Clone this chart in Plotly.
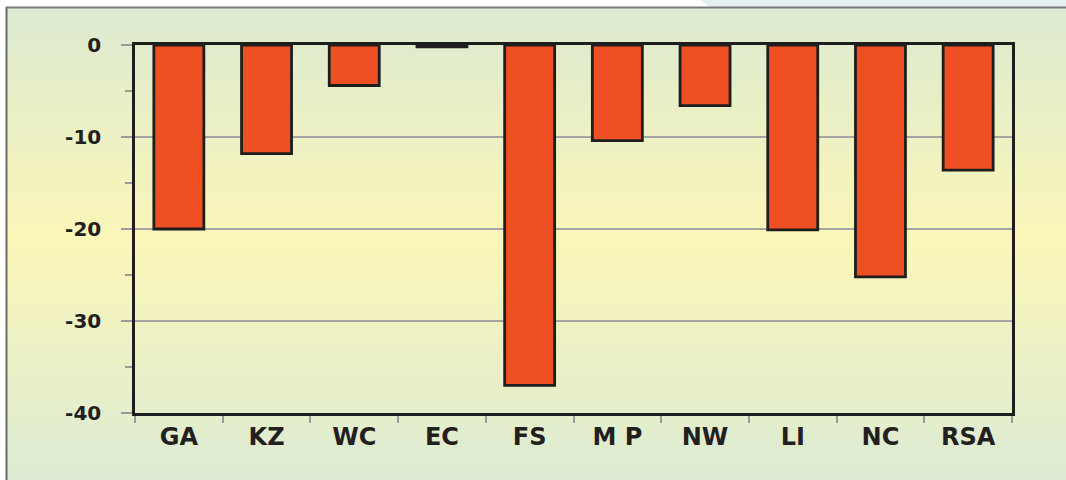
import plotly.graph_objects as go

categories = ["GA", "KZ", "WC", "EC", "FS", "M P", "NW", "LI", "NC", "RSA"]
values = [-20.0, -11.8, -4.4, -0.2, -37.0, -10.4, -6.6, -20.1, -25.2, -13.6]
y_tickvals = [0, -10, -20, -30, -40]

W, H = 1066, 480
PL, PR, PT, PB = 135, 1012, 45, 413

fig = go.Figure()
fig.add_trace(go.Bar(
    x=categories, y=values,
    marker=dict(color="#EF5023", line=dict(color="#1e1e1e", width=2.8)),
    hoverinfo="x+y",
))

def lerp(c1, c2, t):
    t = max(0.0, min(1.0, t))
    return "#%02x%02x%02x" % tuple(int(round(a + (b - a) * t)) for a, b in zip(c1, c2))

def py(px):
    return (PB - px) / (PB - PT)

def pxx(px):
    return (px - PL) / (PR - PL)

top = (220, 234, 209)
mid = (251, 246, 184)
bot = (220, 235, 212)
y_top_px, y_bot_px, peak_px = 8, 481, 240
n = 80
shapes = []
for i in range(n):
    a = y_top_px + (y_bot_px - y_top_px) * i / n
    b = y_top_px + (y_bot_px - y_top_px) * (i + 1) / n
    c = (a + b) / 2
    if c < peak_px:
        col = lerp(top, mid, (c - y_top_px) / (peak_px - y_top_px))
    else:
        col = lerp(mid, bot, (c - peak_px) / (y_bot_px - peak_px))
    shapes.append(dict(type="rect", xref="paper", yref="paper", layer="below",
                       x0=pxx(6), x1=pxx(1070), y0=py(b + 0.6), y1=py(a),
                       line=dict(width=0), fillcolor=col))
# top-right light blue tab
shapes.append(dict(type="path", xref="paper", yref="paper", layer="below",
                   path=f"M {pxx(709)},{py(7)} L {pxx(700)},{py(-1)} L {pxx(1070)},{py(-1)} L {pxx(1070)},{py(7)} Z",
                   fillcolor="#e3eff0", line=dict(width=0)))
# frame border lines
shapes.append(dict(type="line", xref="paper", yref="paper", layer="below",
                   x0=pxx(6), x1=pxx(1070), y0=py(7.5), y1=py(7.5),
                   line=dict(color="#7a7a7a", width=2)))
shapes.append(dict(type="line", xref="paper", yref="paper", layer="below",
                   x0=pxx(6.5), x1=pxx(6.5), y0=py(7), y1=py(485),
                   line=dict(color="#6a6a6a", width=2)))

fig.update_layout(
    width=W, height=H,
    margin=dict(l=PL, r=W - PR, t=PT, b=H - PB),
    paper_bgcolor="white",
    plot_bgcolor="rgba(0,0,0,0)",
    bargap=0.43,
    showlegend=False,
    shapes=shapes,
    font=dict(family="DejaVu Sans, Arial, sans-serif", color="#231f20"),
    xaxis=dict(
        type="category",
        showline=True, linecolor="#1e1e1e", linewidth=2.5, mirror=True,
        ticks="outside", tickson="boundaries", ticklen=7, tickwidth=2, tickcolor="#9a9a9a",
        tickfont=dict(size=24, weight="bold", color="#231f20"),
        showgrid=False,
    ),
    yaxis=dict(
        range=[-40, 0], tickvals=y_tickvals, ticktext=[str(v) for v in y_tickvals],
        showline=True, linecolor="#1e1e1e", linewidth=2.5, mirror=True,
        ticks="outside", ticklen=11, tickwidth=2, tickcolor="#9a9a9a",
        showgrid=True, gridcolor="#a5a5a5", gridwidth=2,
        zeroline=False,
        tickfont=dict(size=20, weight="bold", color="#231f20"),
        minor=dict(dtick=5, tick0=0, ticks="outside", ticklen=7, tickwidth=2,
                   tickcolor="#9a9a9a", showgrid=False),
        ticklabelstandoff=16,
    ),
)

fig.write_html("out.html", config={"displayModeBar": False},
               post_script="document.body.style.margin='0';")
